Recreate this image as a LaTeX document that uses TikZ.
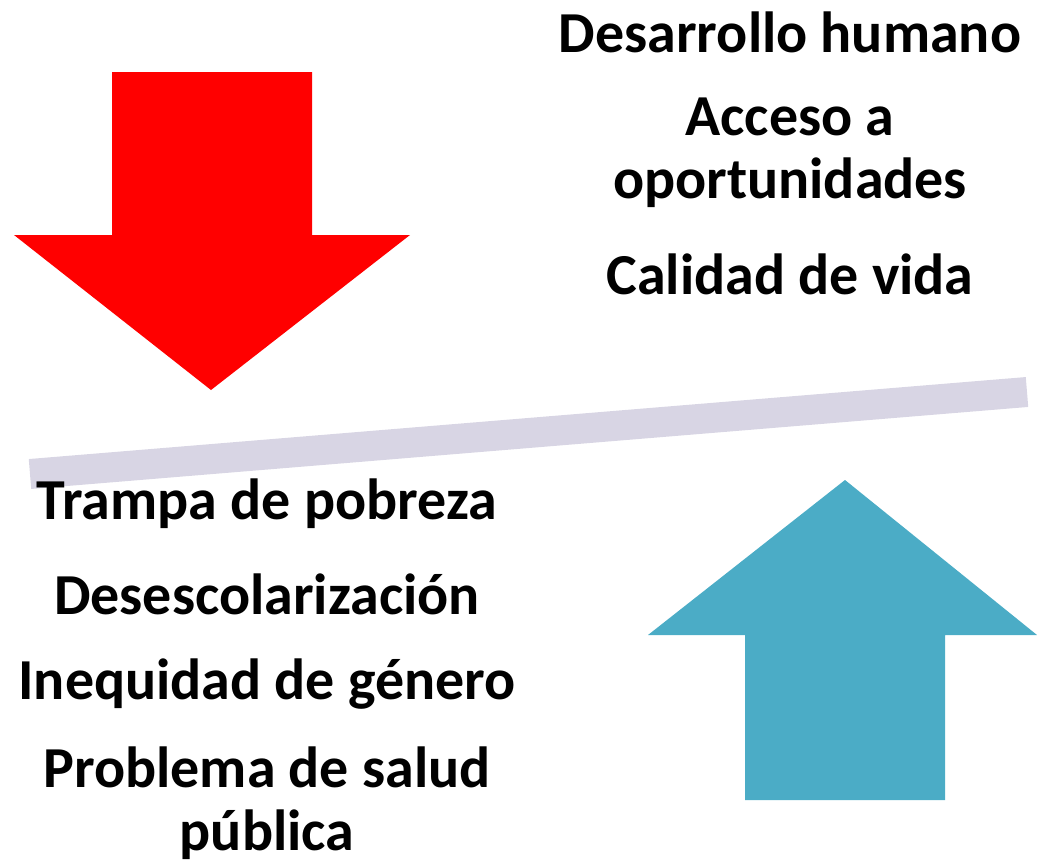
\documentclass[tikz,border=0pt]{standalone}
\usepackage{fontspec}
\setmainfont{Carlito}
\usepackage{tikz}

\definecolor{rojo}{HTML}{FF0000}
\definecolor{azul}{HTML}{4BACC6}
\definecolor{barra}{HTML}{D8D5E4}

\begin{document}
\begin{tikzpicture}[x=1pt,y=-1pt]

\tikzstyle{flecha}=[draw=none]
\tikzstyle{txt}=[font=\bfseries\fontsize{58}{63}\selectfont,align=center,inner sep=0pt]

\useasboundingbox (0,0) rectangle (1037,865);

% flecha roja
\node[shape=coordinate] (rul) at (112,72){};
\node[shape=coordinate] (rur) at (312,72){};
\node[shape=coordinate] (rml) at (112,235){};
\node[shape=coordinate] (rmr) at (312,235){};
\node[shape=coordinate] (rhl) at (14,235){};
\node[shape=coordinate] (rhr) at (410,235){};
\node[shape=coordinate] (rtip) at (211,390){};

\fill[flecha,rojo] (rul)--(rur)--(rmr)--(rhr)--(rtip)--(rhl)--(rml)--cycle;

% flecha azul
\node[shape=coordinate] (adl) at (745,800){};
\node[shape=coordinate] (adr) at (945,800){};
\node[shape=coordinate] (aml) at (745,635){};
\node[shape=coordinate] (amr) at (945,635){};
\node[shape=coordinate] (ahl) at (648,635){};
\node[shape=coordinate] (ahr) at (1037,635){};
\node[shape=coordinate] (atip) at (845,480){};

\fill[flecha,azul] (adl)--(adr)--(amr)--(ahr)--(atip)--(ahl)--(aml)--cycle;

% balanza
\node[shape=coordinate] (bl) at (30,474){};
\node[shape=coordinate] (br) at (1027,392){};
\draw[barra,line width=30pt] (bl)--(br);

\node[txt] (dh) at (790,32) {Desarrollo humano};
\node[txt] (ao) at (790,153) {Acceso a\\oportunidades};
\node[txt] (cv) at (790,274) {Calidad de vida};

\node[txt] (tp) at (267,504) {Trampa de pobreza};
\node[txt] (de) at (267,594) {Desescolarización};
\node[txt] (ig) at (267,684) {Inequidad de género};
\node[txt] (ps) at (267,803) {Problema de salud\\pública};

\end{tikzpicture}
\end{document}
